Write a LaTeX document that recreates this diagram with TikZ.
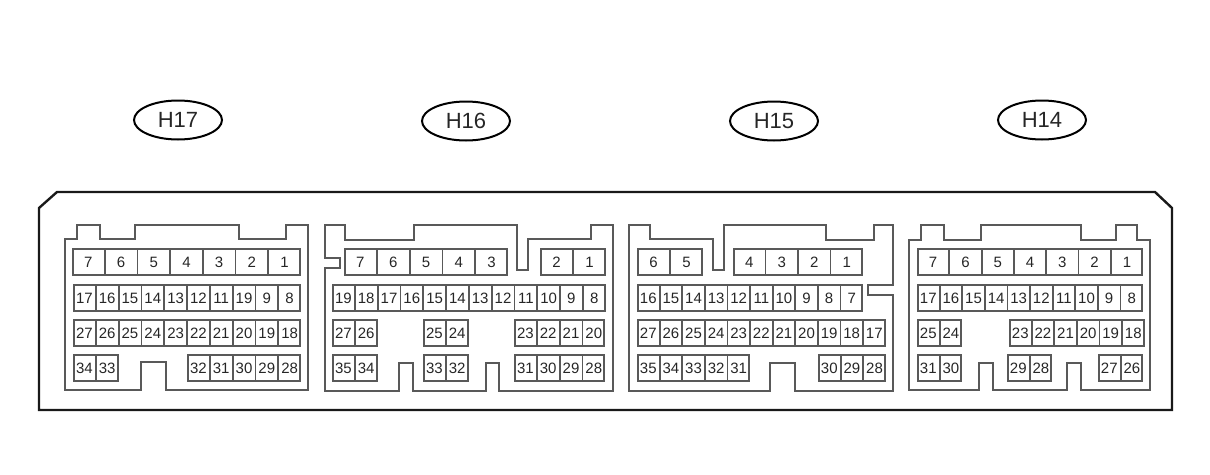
\documentclass[tikz,border=0pt]{standalone}
\usepackage{fontspec}
\setmainfont{Liberation Sans}
\usetikzlibrary{shapes}
\tikzset{
    harness/.style={ellipse,draw=black,line width=2pt,minimum width=88pt,minimum height=39pt,inner sep=0pt,text=black!85,font=\fontsize{22}{22}\selectfont},
    shell/.style={draw=black!65,line width=2pt,line join=miter},
    pinrow/.style={rectangle split,rectangle split horizontal=true,draw=black!65,line width=1.8pt,inner sep=0pt,anchor=west,minimum height=26.5pt,text width=#1pt,align=center,text=black!85,font=\fontsize{15}{15}\selectfont},
}
\begin{document}
\begin{tikzpicture}[x=1pt,y=-1pt]
\useasboundingbox (0,0) rectangle (1210,474);
\node[harness](H17) at (178,120) {H17};
\node[harness](H16) at (466,121) {H16};
\node[harness](H15) at (774,121) {H15};
\node[harness](H14) at (1042,120) {H14};
% outer case
\draw[black!90,line width=2.4pt] (39,208) -- (57,192) -- (1155,192) -- (1172,208) -- (1172,410) -- (39,410) -- cycle;
% connector shells
\draw[shell] (65,239) -- (77,239) -- (77,225) -- (100,225) -- (100,239) -- (135,239) -- (135,225) -- (239,225) -- (239,239) -- (286,239) -- (286,225) -- (308,225) -- (308,390) -- (166,390) -- (166,362) -- (141,362) -- (141,390) -- (65,390) -- cycle;
\draw[shell] (325,225) -- (345,225) -- (345,240) -- (414,240) -- (414,225) -- (517,225) -- (517,270) -- (528,270) -- (528,239) -- (591,239) -- (591,225) -- (613,225) -- (613,391) -- (499,391) -- (499,363) -- (486,363) -- (486,391) -- (413,391) -- (413,363) -- (399,363) -- (399,391) -- (325,391) -- (325,268) -- (340,268) -- (340,258) -- (325,258) -- cycle;
\draw[shell] (629,225) -- (650,225) -- (650,239) -- (713,239) -- (713,270) -- (724,270) -- (724,225) -- (826,225) -- (826,240) -- (874,240) -- (874,225) -- (893,225) -- (893,285) -- (868,285) -- (868,295) -- (893,295) -- (893,391) -- (795,391) -- (795,363) -- (770,363) -- (770,391) -- (629,391) -- cycle;
\draw[shell] (909,240) -- (921,240) -- (921,225) -- (944,225) -- (944,240) -- (981,240) -- (981,225) -- (1081,225) -- (1081,240) -- (1116,240) -- (1116,225) -- (1137,225) -- (1137,240) -- (1150,240) -- (1150,390) -- (1081,390) -- (1081,363) -- (1067,363) -- (1067,390) -- (993,390) -- (993,363) -- (979,363) -- (979,390) -- (909,390) -- cycle;
% H17
\node[pinrow=30.9,rectangle split parts=7](H17a) at (72,262) {7\nodepart{two}6\nodepart{three}5\nodepart{four}4\nodepart{five}3\nodepart{six}2\nodepart{seven}1};
\node[pinrow=21,rectangle split parts=10](H17b) at (73,298) {17\nodepart{two}16\nodepart{three}15\nodepart{four}14\nodepart{five}13\nodepart{six}12\nodepart{seven}11\nodepart{eight}19\nodepart{nine}9\nodepart{ten}8};
\node[pinrow=21,rectangle split parts=10](H17c) at (73,333) {27\nodepart{two}26\nodepart{three}25\nodepart{four}24\nodepart{five}23\nodepart{six}22\nodepart{seven}21\nodepart{eight}20\nodepart{nine}19\nodepart{ten}18};
\node[pinrow=21,rectangle split parts=2](H17d) at (73,368) {34\nodepart{two}33};
\node[pinrow=21,rectangle split parts=5](H17e) at (187,368) {32\nodepart{two}31\nodepart{three}30\nodepart{four}29\nodepart{five}28};
% H16
\node[pinrow=31,rectangle split parts=5](H16a) at (344,262) {7\nodepart{two}6\nodepart{three}5\nodepart{four}4\nodepart{five}3};
\node[pinrow=31.2,rectangle split parts=2](H16b) at (540,262) {2\nodepart{two}1};
\node[pinrow=21,rectangle split parts=12](H16c) at (332,298) {19\nodepart{two}18\nodepart{three}17\nodepart{four}16\nodepart{five}15\nodepart{six}14\nodepart{seven}13\nodepart{eight}12\nodepart{nine}11\nodepart{ten}10\nodepart{eleven}9\nodepart{twelve}8};
\node[pinrow=21,rectangle split parts=2](H16d) at (332,333) {27\nodepart{two}26};
\node[pinrow=21,rectangle split parts=2](H16e) at (423,333) {25\nodepart{two}24};
\node[pinrow=21,rectangle split parts=4](H16f) at (514,333) {23\nodepart{two}22\nodepart{three}21\nodepart{four}20};
\node[pinrow=21,rectangle split parts=2](H16g) at (332,368) {35\nodepart{two}34};
\node[pinrow=21,rectangle split parts=2](H16h) at (423,368) {33\nodepart{two}32};
\node[pinrow=21,rectangle split parts=4](H16i) at (514,368) {31\nodepart{two}30\nodepart{three}29\nodepart{four}28};
% H15
\node[pinrow=31.2,rectangle split parts=2](H15a) at (637,262) {6\nodepart{two}5};
\node[pinrow=30.7,rectangle split parts=4](H15b) at (733,262) {4\nodepart{two}3\nodepart{three}2\nodepart{four}1};
\node[pinrow=20.8,rectangle split parts=10](H15c) at (637,298) {16\nodepart{two}15\nodepart{three}14\nodepart{four}13\nodepart{five}12\nodepart{six}11\nodepart{seven}10\nodepart{eight}9\nodepart{nine}8\nodepart{ten}7};
\node[pinrow=20.8,rectangle split parts=11](H15d) at (637,333) {27\nodepart{two}26\nodepart{three}25\nodepart{four}24\nodepart{five}23\nodepart{six}22\nodepart{seven}21\nodepart{eight}20\nodepart{nine}19\nodepart{ten}18\nodepart{eleven}17};
\node[pinrow=20.8,rectangle split parts=5](H15e) at (637,368) {35\nodepart{two}34\nodepart{three}33\nodepart{four}32\nodepart{five}31};
\node[pinrow=20.8,rectangle split parts=3](H15f) at (818,368) {30\nodepart{two}29\nodepart{three}28};
% H14
\node[pinrow=30.5,rectangle split parts=7](H14a) at (917,262) {7\nodepart{two}6\nodepart{three}5\nodepart{four}4\nodepart{five}3\nodepart{six}2\nodepart{seven}1};
\node[pinrow=20.8,rectangle split parts=10](H14b) at (917,298) {17\nodepart{two}16\nodepart{three}15\nodepart{four}14\nodepart{five}13\nodepart{six}12\nodepart{seven}11\nodepart{eight}10\nodepart{nine}9\nodepart{ten}8};
\node[pinrow=20.8,rectangle split parts=2](H14c) at (917,333) {25\nodepart{two}24};
\node[pinrow=20.8,rectangle split parts=6](H14d) at (1009,333) {23\nodepart{two}22\nodepart{three}21\nodepart{four}20\nodepart{five}19\nodepart{six}18};
\node[pinrow=20.8,rectangle split parts=2](H14e) at (917,368) {31\nodepart{two}30};
\node[pinrow=20.8,rectangle split parts=2](H14f) at (1007,368) {29\nodepart{two}28};
\node[pinrow=20.8,rectangle split parts=2](H14g) at (1098,368) {27\nodepart{two}26};
\end{tikzpicture}
\end{document}
